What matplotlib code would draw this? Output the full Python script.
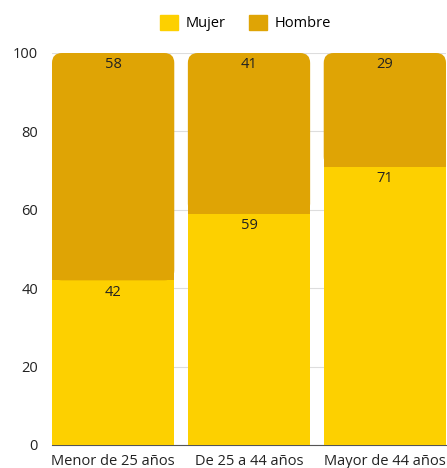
import numpy as np
import matplotlib.pyplot as plt
from matplotlib.patches import FancyBboxPatch, Rectangle

plt.rcParams['font.family'] = ['Open Sans', 'DejaVu Sans']

categories = ["Menor de 25 años", "De 25 a 44 años", "Mayor de 44 años"]
mujer = [42, 59, 71]
hombre = [58, 41, 29]

color_mujer = "#FDD000"
color_hombre = "#DFA405"
fs = 10.5

fig = plt.figure(figsize=(4.47, 4.68), dpi=100)
ax = fig.add_axes([52 / 447, (468 - 445) / 468, 394 / 447, 392 / 468])

x = np.arange(len(categories))
width = 0.9

ax.bar(x, mujer, width, color=color_mujer, zorder=2, label="Mujer")
top = ax.bar(x, hombre, width, bottom=mujer, color=color_hombre, zorder=2, label="Hombre")

ax.set_xlim(-width / 2, len(categories) - 1 + width / 2)
ax.set_ylim(0, 100)

# round the top corners of the upper segments
radius_px = 10
px_x = ax.get_position().width * fig.get_figwidth() * fig.dpi / (ax.get_xlim()[1] - ax.get_xlim()[0])
px_y = ax.get_position().height * fig.get_figheight() * fig.dpi / 100
aspect = px_x / px_y
for rect in top:
    rect.set_visible(False)
    x0, y0 = rect.get_x(), rect.get_y()
    w, h = rect.get_width(), rect.get_height()
    ax.add_patch(FancyBboxPatch((x0, y0), w, h,
                                boxstyle=f"round,pad=0,rounding_size={radius_px / px_x}",
                                mutation_aspect=aspect, linewidth=0,
                                facecolor=color_hombre, zorder=2))
    ax.add_patch(Rectangle((x0, y0), w, h / 2, linewidth=0,
                           facecolor=color_hombre, zorder=2))

# value labels just under each segment's top
for i in range(len(categories)):
    ax.annotate(str(mujer[i]), (x[i], mujer[i]), xytext=(0, -8.5), textcoords="offset points",
                ha="center", va="center", fontsize=fs, color="#222222", zorder=3)
    ax.annotate(str(hombre[i]), (x[i], mujer[i] + hombre[i]), xytext=(0, -8),
                textcoords="offset points", ha="center", va="center",
                fontsize=fs, color="#222222", zorder=3)

ax.set_yticks([0, 20, 40, 60, 80, 100])
ax.set_xticks(x)
ax.set_xticklabels(categories)
ax.tick_params(axis="both", length=0, labelsize=fs, colors="#222222")
ax.tick_params(axis="y", pad=10)
ax.tick_params(axis="x", pad=6.5)
ax.grid(axis="y", color="#DDDDDD", linewidth=0.8, zorder=0)
for side in ["top", "right", "left"]:
    ax.spines[side].set_visible(False)
ax.spines["bottom"].set_color("#555555")
ax.spines["bottom"].set_linewidth(0.8)
ax.spines["bottom"].set_zorder(1)

fig.legend(handles=[Rectangle((0, 0), 1, 1, color=color_mujer),
                    Rectangle((0, 0), 1, 1, color=color_hombre)],
           labels=["Mujer", "Hombre"], loc="center",
           bbox_to_anchor=(245.5 / 447, 1 - 23 / 468),
           ncol=2, frameon=False, fontsize=fs, handlelength=1.25, handleheight=1.25,
           handletextpad=0.5, columnspacing=1.6)

fig.savefig("out.png", dpi=100)
